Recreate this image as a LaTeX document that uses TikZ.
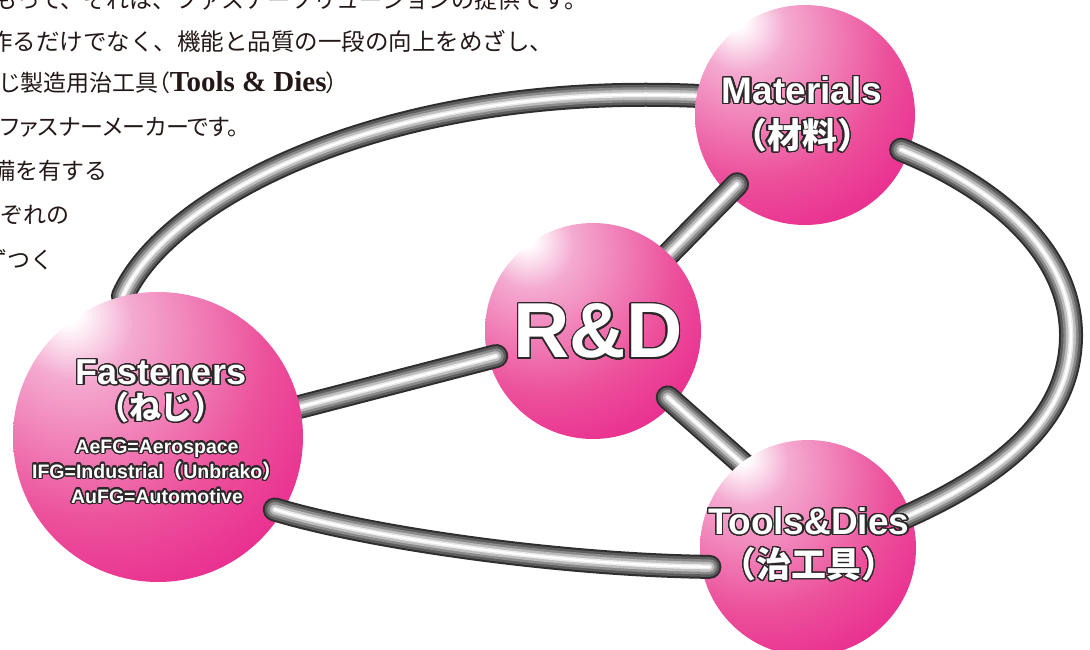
\documentclass[tikz,border=0pt]{standalone}
\usepackage{fontspec}
\setmainfont{Liberation Serif}
\newfontfamily\lsans{Liberation Sans}
\newfontfamily\jpfont{Noto Sans CJK JP}
\newfontfamily\jptext[RawFeature=+palt]{Noto Sans CJK JP}
\usepackage[copies]{contour}
\contourlength{1.3pt}
\contournumber{32}
\usepackage{tikz}
\definecolor{ballpink}{RGB}{230,0,126}
\definecolor{ballmid}{RGB}{236,80,155}
\definecolor{balllight}{RGB}{244,170,208}
\definecolor{lblline}{RGB}{45,40,40}
\definecolor{bodytext}{RGB}{35,24,21}
\pgfdeclareradialshading{pinkball}{\pgfpoint{-16bp}{22bp}}{%
  color(0bp)=(white); color(2bp)=(white); color(10bp)=(balllight);
  color(30bp)=(ballmid); color(58bp)=(ballpink); color(100bp)=(ballpink)}
\pgfdeclarelayer{ringback}
\pgfdeclarelayer{topball}
\pgfdeclarelayer{spokeback}
\pgfdeclarelayer{hubball}
\pgfdeclarelayer{spokefront}
\pgfdeclarelayer{sideball}
\pgfdeclarelayer{ringfront}
\pgfsetlayers{ringback,topball,spokeback,hubball,spokefront,sideball,ringfront,main}
\tikzset{
  sphere/.style={circle, inner sep=0pt, shading=pinkball},
  tube/.style={line cap=round, draw=black!82, line width=24pt,
    postaction={draw=black!64, line width=20pt},
    postaction={draw=black!46, line width=15pt},
    postaction={draw=black!26, line width=10pt},
    postaction={draw=black!8, line width=5pt},
    postaction={draw=white, line width=2pt}},
  lbl/.style={text=white, align=center, inner sep=0pt},
  bodyln/.style={anchor=west, inner sep=0pt, text=bodytext,
    font=\jpfont\fontsize{23}{24}\selectfont},
}
\newcommand{\olab}[1]{\contour{lblline}{#1}}

\begin{document}
\begin{tikzpicture}[x=1pt, y=-1pt]
    \useasboundingbox (0,0) rectangle (1090,650);
    \clip (0,0) rectangle (1090,650);
    % Text block, cut at the left edge
    \node[bodyln] (txta) at (-6,0) {もって、それは、ファスナーソリューションの提供です。};
    \node[bodyln, font=\jpfont\fontsize{23.5}{24}\selectfont] (txtb) at (-11,41)
      {作るだけでなく、機能と品質の一段の向上をめざし、};
    \node[bodyln, font=\jptext\fontsize{23}{24}\selectfont] (txtc) at (0,83)
      {じ製造用治工具（{\rmfamily\bfseries\fontsize{29}{30}\selectfont Tools \& Dies}）};
    \node[bodyln, font=\jptext\fontsize{23}{24}\selectfont] (txtd) at (0,127) {ファスナーメーカーです。};
    \node[bodyln] (txte) at (-8,171) {備を有する};
    \node[bodyln] (txtf) at (0,215) {ぞれの};
    \node[bodyln] (txtg) at (-16,260) {ずつく};
    % Spheres
    \begin{pgfonlayer}{topball}
      \node[sphere, minimum size=220pt] (mat) at (805,115) {};
    \end{pgfonlayer}
    \begin{pgfonlayer}{hubball}
      \node[sphere, minimum size=216pt] (rd) at (593,331) {};
    \end{pgfonlayer}
    \begin{pgfonlayer}{sideball}
      \node[sphere, minimum size=290pt] (fas) at (158,437) {};
      \node[sphere, minimum size=216pt] (tool) at (808,548) {};
    \end{pgfonlayer}
    % Outer ring
    \begin{pgfonlayer}{ringback}
      \draw[tube] (fas.104) .. controls (165,200) and (380,82) .. (mat.170);
    \end{pgfonlayer}
    \begin{pgfonlayer}{ringfront}
      \draw[tube, shorten <=-8pt, shorten >=-8pt] (mat.-20)
        .. controls (1000,190) and (1072,255) .. (1071,337)
        .. controls (1070,420) and (1000,475) .. (tool.18);
      \draw[tube, shorten <=-8pt, shorten >=-8pt] (fas.-31)
        .. controls (370,538) and (560,565) .. (tool.190);
    \end{pgfonlayer}
    % Spokes from R&D
    \begin{pgfonlayer}{spokeback}
      \draw[tube, shorten >=97pt] (rd.center) -- (mat.center);
    \end{pgfonlayer}
    \begin{pgfonlayer}{spokefront}
      \draw[tube, shorten <=100pt, shorten >=-15pt] (rd.center) -- (fas.12);
      \draw[tube, shorten <=100pt, shorten >=-15pt] (rd.center) -- (tool.128);
    \end{pgfonlayer}
    % Labels
    \node[lbl, font=\lsans\bfseries\fontsize{37}{45}\selectfont] (matlbl) at (802,115)
      {\olab{Materials}\\\olab{\jpfont\bfseries\fontsize{35}{45}\selectfont （材料）}};
    \node[lbl, font=\lsans\bfseries\fontsize{78}{80}\selectfont] (rdlbl) at (598,332)
      {\olab{R\&D}};
    \node[lbl, font=\lsans\bfseries\fontsize{36}{35}\selectfont] (faslbl) at (161,392)
      {\olab{Fasteners}\\\olab{\jpfont\bfseries\fontsize{32}{35}\selectfont （ねじ）}};
    \node[lbl, font=\lsans\bfseries\fontsize{19.5}{25}\selectfont] (fasnote) at (157,472)
      {\olab{AeFG=Aerospace}\\\olab{IFG=Industrial{\jpfont（}Unbrako{\jpfont）}}\\\olab{AuFG=Automotive}};
    \node[lbl, font=\lsans\bfseries\fontsize{37}{43}\selectfont] (toollbl) at (809,545)
      {\olab{Tools\&Dies}\\\olab{\jpfont\bfseries\fontsize{35}{43}\selectfont （治工具）}};
\end{tikzpicture}
\end{document}
